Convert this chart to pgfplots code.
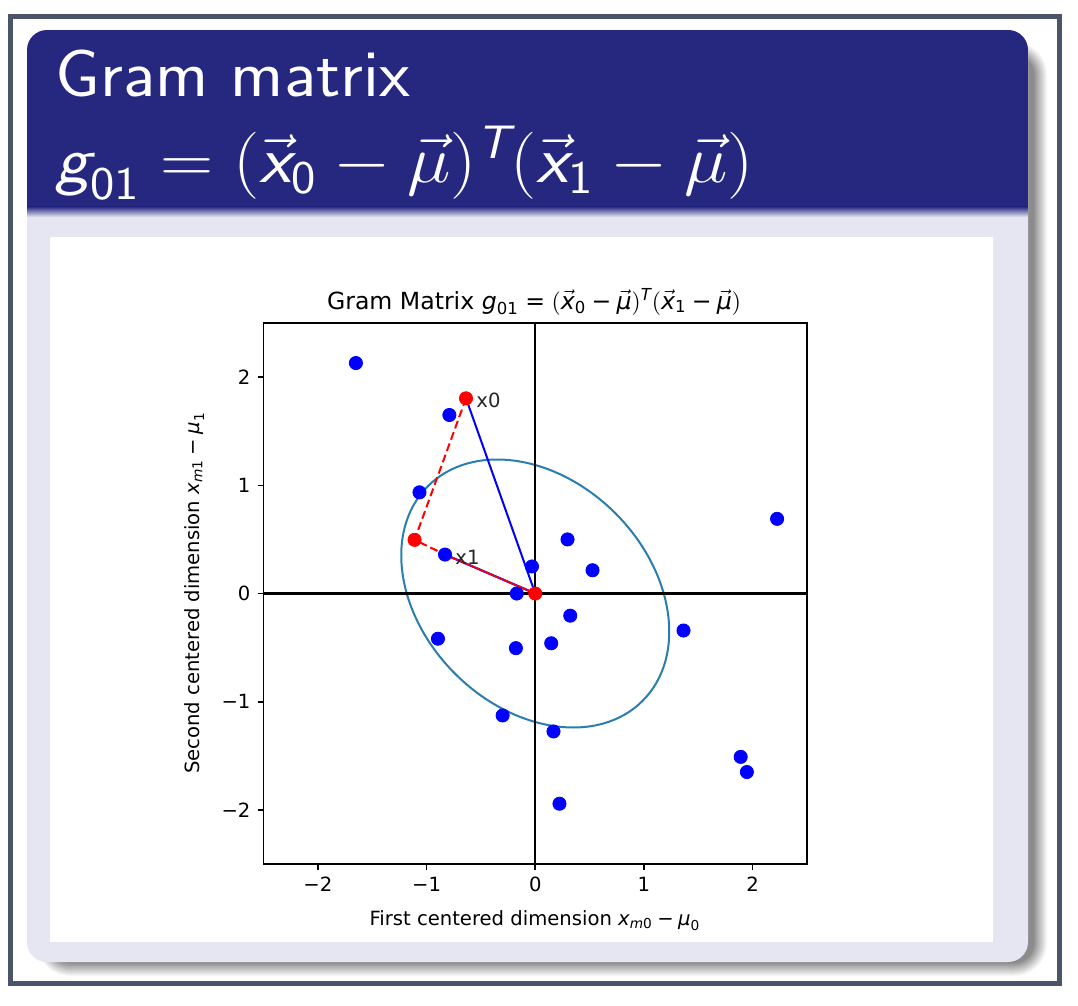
\RequirePackage{fix-cm}
\documentclass[border=0pt]{standalone}
\usepackage{amsmath}
\usepackage{fontspec}
\usepackage{pgfplots}
\pgfplotsset{compat=1.18}
\newfontfamily\dejavu{DejaVu Sans}
\definecolor{navy}{RGB}{38,40,128}
\definecolor{lav}{RGB}{230,230,242}
\definecolor{framec}{RGB}{74,85,105}
\definecolor{ellc}{RGB}{42,125,175}
\newcommand{\tf}{\dejavu\fontsize{9.8}{12}\selectfont}
\newcommand{\ti}[1]{\text{\itshape #1}}
\begin{document}
\begin{tikzpicture}
\path[use as bounding box] (0,0) rectangle (539pt,-503pt);
\begin{scope}[x=0.5pt,y=-0.5pt]
\fill[white] (0,0) rectangle (1078,1006);
\draw[framec, line width=2.5pt] (10.5,16.5) rectangle (1059.5,983.5);
\foreach \e in {14,13,...,0}{
  \pgfmathsetmacro{\p}{45*(1-\e/14)}
  \pgfmathsetmacro{\r}{10+0.5*\e}
  \fill[black!\p!white, rounded corners=\r pt] ({50-\e},{55-\e}) rectangle ({1034+\e},{963+\e});
}
\fill[lav, rounded corners=10pt] (27,30) rectangle (1028,962);
\begin{scope}
\clip[rounded corners=10pt] (27,30) rectangle (1028,962);
\fill[navy] (27,30) rectangle (1028,207);
\shade[top color=navy, bottom color=lav] (27,206.5) rectangle (1028,217);
\end{scope}
\fill[white] (50,237) rectangle (993,942);
\node[anchor=base west, text=white, font=\sffamily\fontsize{33.5}{40}\selectfont, inner sep=0, xscale=1.066] at (55,97) {Gram matrix};
\node[anchor=base west, text=white, font=\sffamily\fontsize{33.5}{40}\selectfont, inner sep=0, xscale=1.10] at (55,183)
 {$\text{\slshape g}_{\mathsf{01}} = (\vec{\text{\slshape x}}_{\mathsf{0}} - \vec{\mu})^{\text{\slshape T}}(\vec{\text{\slshape x}}_{\mathsf{1}} - \vec{\mu})$};
% chart texts
\node[anchor=base, font=\dejavu\fontsize{11.8}{14}\selectfont, inner sep=0] at (534,309)
 {Gram Matrix $\ti{g}_{\text{01}} \mathrel{\text{=}} (\vec{\ti{x}}_{\text{0}} \mathbin{\text{−}} \vec{\ti{μ}})^{\ti{T}}(\vec{\ti{x}}_{\text{1}} \mathbin{\text{−}} \vec{\ti{μ}})$};
\node[anchor=base, font=\tf, inner sep=0] at (535,925)
 {First centered dimension $\ti{x}_{\ti{m}\text{0}} \mathbin{\text{−}} \ti{μ}_{\text{0}}$};
\node[anchor=base, rotate=90, font=\tf, inner sep=0] at (199,593)
 {Second centered dimension $\ti{x}_{\ti{m}\text{1}} \mathbin{\text{−}} \ti{μ}_{\text{1}}$};
\end{scope}
\begin{axis}[at={(131.75pt,-432pt)}, anchor=south west, width=271.75pt, height=270.5pt, scale only axis,
 xmin=-2.5, xmax=2.5, ymin=-2.5, ymax=2.5,
 xtick={-2,-1,0,1,2}, xticklabels={\text{−2},\text{−1},\text{0},\text{1},\text{2}},
 ytick={-2,-1,0,1,2}, yticklabels={\text{−2},\text{−1},\text{0},\text{1},\text{2}},
 tick align=outside, xtick pos=left, ytick pos=left, major tick length=3pt,
 tick style={black, line width=0.8pt},
 ticklabel style={font=\tf},
 axis line style={black, line width=0.8pt}]
\draw[ellc, line width=1pt, rotate around={-45:(axis cs:0,0)}] (axis cs:0,0) ellipse [x radius=75.9pt, y radius=56.7pt];
\addplot[black, line width=1.15pt] coordinates {(-2.5,0) (2.5,0)};
\addplot[black, line width=1.15pt] coordinates {(0,-2.5) (0,2.5)};
\addplot[only marks, mark=*, mark size=3.3pt, blue, mark options={draw=blue, fill=blue}] coordinates {
(-1.65,2.13) (-0.79,1.65) (-1.065,0.935) (-0.83,0.36) (-0.03,0.25) (-0.17,0.00)
(0.297,0.50) (0.527,0.215) (0.322,-0.205) (-0.895,-0.418) (-0.178,-0.505) (0.147,-0.46)
(1.364,-0.342) (2.225,0.69) (-0.30,-1.127) (0.168,-1.275) (0.223,-1.943) (1.89,-1.51) (1.947,-1.65)
};
\addplot[blue, line width=1pt] coordinates {(0,0) (-0.637,1.804)};
\addplot[blue, line width=1.1pt] coordinates {(0,0) (-0.83,0.36)};
\addplot[red, line width=0.8pt] coordinates {(0,0) (-0.83,0.36)};
\addplot[red, line width=1pt, dash pattern=on 4pt off 2pt] coordinates {(-0.637,1.804) (-1.11,0.496) (-0.83,0.36)};
\addplot[only marks, mark=*, mark size=3.3pt, red, mark options={draw=red, fill=red}] coordinates {(-0.637,1.804) (-1.11,0.496) (0,0)};
\node[anchor=west, font=\tf, text=black!85, xshift=4pt, yshift=-1pt, inner sep=1pt] at (axis cs:-0.637,1.804) {x0};
\node[anchor=west, font=\tf, text=black!85, xshift=4pt, yshift=-1.5pt, inner sep=1pt] at (axis cs:-0.83,0.36) {x1};
\end{axis}
\end{tikzpicture}
\end{document}
